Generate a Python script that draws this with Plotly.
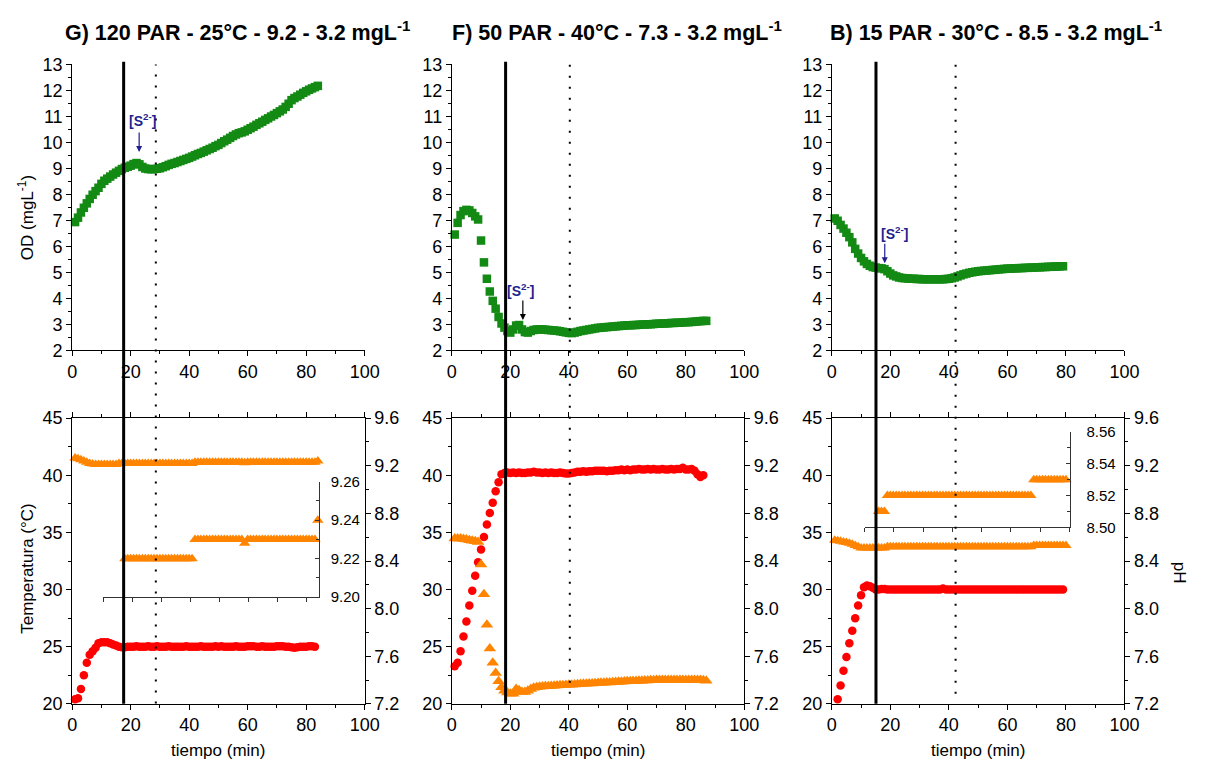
import plotly.graph_objects as go

# ------------------------------------------------------------------ data
# Panel G (120 PAR - 25 C)
G_od_t = list(range(1, 85))
G_od = [6.93, 7.1, 7.3, 7.48, 7.65, 7.82, 7.98, 8.12, 8.25, 8.4,
        8.52, 8.6, 8.68, 8.76, 8.83, 8.9, 8.97, 9.02, 9.06, 9.1,
        9.16, 9.2, 9.15, 9.05, 8.99, 8.97, 8.96, 8.97, 8.98, 9.0,
        9.04, 9.08, 9.13, 9.17, 9.2, 9.24, 9.28, 9.32, 9.36, 9.4,
        9.45, 9.5, 9.55, 9.59, 9.64, 9.69, 9.74, 9.79, 9.85, 9.9,
        9.97, 10.04, 10.1, 10.17, 10.24, 10.3, 10.35, 10.38, 10.42, 10.48,
        10.54, 10.6, 10.67, 10.73, 10.79, 10.86, 10.92, 10.99, 11.05, 11.12,
        11.19, 11.26, 11.36, 11.48, 11.62, 11.7, 11.76, 11.83, 11.9, 11.96,
        12.02, 12.07, 12.12, 12.17]
G_temp_t = list(range(1, 84))
G_temp = [20.4, 20.5, 21.3, 22.5, 23.6, 24.3, 24.6, 24.9, 25.3, 25.4,
          25.4, 25.4, 25.3, 25.2, 25.1, 25.0, 24.95, 24.95, 25.0, 25.0,
          25.0, 25.05, 25.0, 25.0, 25.0, 25.05, 25.0, 25.0, 25.05, 25.0,
          25.0, 25.0, 25.05, 25.0, 25.0, 25.0, 25.0, 25.0, 25.05, 25.0,
          25.0, 25.0, 25.0, 25.05, 25.0, 25.0, 25.0, 25.0, 25.05, 25.0,
          25.05, 25.0, 25.0, 25.0, 25.0, 25.05, 25.0, 25.0, 25.0, 25.05,
          25.05, 25.05, 25.0, 25.0, 25.05, 25.0, 25.0, 25.0, 25.0, 25.05,
          25.05, 25.05, 25.0, 25.0, 24.95, 24.9, 24.95, 25.0, 25.0, 25.0,
          25.05, 25.05, 25.0]
G_ph_t = list(range(1, 85))
G_ph = [9.265, 9.26, 9.25, 9.24, 9.23, 9.22, 9.215,
        9.21, 9.21, 9.21, 9.21, 9.21, 9.21, 9.21, 9.21,
        9.22, 9.22, 9.22, 9.22, 9.22, 9.22, 9.22, 9.22, 9.22, 9.22,
        9.22, 9.22, 9.22, 9.22, 9.22, 9.22, 9.22, 9.22, 9.22, 9.22,
        9.22, 9.22, 9.22, 9.22, 9.22, 9.22,
        9.23, 9.23, 9.23, 9.23, 9.23, 9.23, 9.23, 9.23, 9.23, 9.23,
        9.23, 9.23, 9.23, 9.23, 9.23, 9.23, 9.23,
        9.225,
        9.23, 9.23, 9.23, 9.23, 9.23, 9.23, 9.23, 9.23, 9.23, 9.23,
        9.23, 9.23, 9.23, 9.23, 9.23, 9.23, 9.23, 9.23, 9.23, 9.23,
        9.23, 9.23, 9.23, 9.23,
        9.24]
G_inset_t = list(range(18, 85))
G_inset_ph = [9.22, 9.22, 9.22, 9.22, 9.22, 9.22, 9.22, 9.22, 9.22, 9.22,
              9.22, 9.22, 9.22, 9.22, 9.22, 9.22, 9.22, 9.22, 9.22, 9.22,
              9.22, 9.22, 9.22, 9.22,
              9.23, 9.23, 9.23, 9.23, 9.23, 9.23, 9.23, 9.23, 9.23, 9.23,
              9.23, 9.23, 9.23, 9.23, 9.23, 9.23, 9.23,
              9.228,
              9.23, 9.23, 9.23, 9.23, 9.23, 9.23, 9.23, 9.23, 9.23, 9.23,
              9.23, 9.23, 9.23, 9.23, 9.23, 9.23, 9.23, 9.23, 9.23, 9.23,
              9.23, 9.23, 9.23, 9.23,
              9.24]

# Panel F (50 PAR - 40 C)
F_od_t = list(range(1, 88))
F_od = [6.45, 6.9, 7.2, 7.35, 7.4, 7.38, 7.28, 7.15, 7.03, 6.22,
        5.38, 4.75, 4.26, 3.9, 3.6, 3.28, 3.03, 2.87, 2.74, 2.68,
        2.8, 2.95, 2.97, 2.8, 2.7, 2.68, 2.74, 2.78, 2.8, 2.8,
        2.8, 2.79, 2.78, 2.77, 2.76, 2.75, 2.73, 2.71, 2.69, 2.67,
        2.66, 2.68, 2.71, 2.74, 2.76, 2.78, 2.8, 2.82, 2.84, 2.86,
        2.87, 2.88, 2.89, 2.9, 2.91, 2.92, 2.93, 2.94, 2.95, 2.96,
        2.96, 2.97, 2.97, 2.98, 2.99, 2.99, 3.0, 3.0, 3.01, 3.02,
        3.02, 3.03, 3.03, 3.04, 3.05, 3.05, 3.06, 3.06, 3.07, 3.08,
        3.08, 3.09, 3.1, 3.11, 3.12, 3.13, 3.13]
F_temp_t = list(range(1, 87))
F_temp = [23.3, 23.6, 24.6, 25.9, 27.2, 28.6, 29.9, 31.2, 32.4, 33.5,
          34.6, 35.7, 36.7, 37.6, 38.6, 39.4, 40.1, 40.2, 40.25, 40.2,
          40.25, 40.2, 40.25, 40.2, 40.2, 40.25, 40.25, 40.3, 40.25, 40.25,
          40.2, 40.25, 40.2, 40.25, 40.2, 40.2, 40.25, 40.2, 40.15, 40.15,
          40.2, 40.25, 40.3, 40.3, 40.35, 40.3, 40.35, 40.35, 40.4, 40.4,
          40.4, 40.4, 40.35, 40.4, 40.4, 40.45, 40.45, 40.5, 40.45, 40.5,
          40.45, 40.5, 40.5, 40.55, 40.5, 40.5, 40.55, 40.5, 40.55, 40.5,
          40.5, 40.55, 40.5, 40.5, 40.55, 40.5, 40.55, 40.55, 40.65, 40.5,
          40.5, 40.55, 40.4, 40.1, 39.85, 40.0]
F_ph_t = list(range(1, 88))
F_ph = [8.59, 8.59, 8.59, 8.585, 8.58, 8.575, 8.57, 8.565, 8.56, 8.37,
        8.12, 7.865, 7.665, 7.545, 7.46, 7.39, 7.34, 7.31, 7.295, 7.285,
        7.285, 7.325, 7.315, 7.3, 7.3, 7.31, 7.325, 7.335, 7.34, 7.343,
        7.345, 7.347, 7.349, 7.35, 7.352, 7.354, 7.356, 7.357, 7.358, 7.36,
        7.36, 7.362, 7.364, 7.366, 7.368, 7.37, 7.371, 7.372, 7.374, 7.375,
        7.377, 7.378, 7.379, 7.38, 7.382, 7.383, 7.385, 7.386, 7.388, 7.39,
        7.39, 7.392, 7.393, 7.394, 7.395, 7.396, 7.397, 7.398, 7.399, 7.4,
        7.4, 7.4, 7.4, 7.4, 7.4, 7.4, 7.4, 7.4, 7.4, 7.4,
        7.4, 7.4, 7.4, 7.4, 7.4, 7.398, 7.395]

# Panel B (15 PAR - 30 C)
B_od_t = list(range(1, 80))
B_od = [7.07, 6.98, 6.82, 6.68, 6.52, 6.35, 6.15, 5.9, 5.72, 5.55,
        5.42, 5.32, 5.25, 5.2, 5.18, 5.16, 5.15, 5.12, 5.04, 4.95,
        4.88, 4.84, 4.8, 4.78, 4.77, 4.76, 4.75, 4.75, 4.74, 4.74,
        4.73, 4.73, 4.73, 4.73, 4.73, 4.73, 4.73, 4.73, 4.74, 4.75,
        4.77, 4.8, 4.84, 4.88, 4.92, 4.95, 4.98, 5.0, 5.02, 5.04,
        5.05, 5.06, 5.07, 5.08, 5.09, 5.1, 5.11, 5.12, 5.13, 5.14,
        5.14, 5.15, 5.15, 5.16, 5.16, 5.17, 5.17, 5.18, 5.18, 5.19,
        5.19, 5.2, 5.2, 5.21, 5.21, 5.22, 5.22, 5.23, 5.23]
B_temp_t = list(range(2, 80))
B_temp = [20.4, 21.6, 22.9, 24.1, 25.3, 26.4, 27.5, 28.6, 29.5, 30.2,
          30.35, 30.3, 30.15, 30.0, 30.0, 30.05, 30.05,
          30.0, 30.0, 30.0, 30.0, 30.0, 30.0, 30.0, 30.0, 30.0, 30.0,
          30.0, 30.0, 30.0, 30.0, 30.0, 30.0, 30.0, 30.0, 30.0,
          30.1,
          30.0, 30.0, 30.0, 30.0, 30.0, 30.0, 30.0, 30.0, 30.0, 30.0,
          30.0, 30.0, 30.0, 30.0, 30.0, 30.0, 30.0, 30.0, 30.0, 30.0,
          30.0, 30.0, 30.0, 30.0, 30.0, 30.0, 30.0, 30.0, 30.0, 30.0,
          30.0, 30.0, 30.0, 30.0, 30.0, 30.0, 30.0, 30.0, 30.0, 30.0,
          30.0]
B_ph_t = list(range(1, 81))
B_ph = [8.575, 8.57, 8.565, 8.56, 8.555, 8.55, 8.54, 8.53, 8.52,
        8.51, 8.51, 8.51, 8.51, 8.51, 8.51, 8.51, 8.51, 8.51,
        8.52, 8.52, 8.52, 8.52, 8.52, 8.52, 8.52, 8.52, 8.52, 8.52,
        8.52, 8.52, 8.52, 8.52, 8.52, 8.52, 8.52, 8.52, 8.52, 8.52,
        8.52, 8.52, 8.52, 8.52, 8.52, 8.52, 8.52, 8.52, 8.52, 8.52,
        8.52, 8.52, 8.52, 8.52, 8.52, 8.52, 8.52, 8.52, 8.52, 8.52,
        8.52, 8.52, 8.52, 8.52, 8.52, 8.52, 8.52, 8.52, 8.52, 8.52,
        8.53, 8.53, 8.53, 8.53, 8.53, 8.53, 8.53, 8.53, 8.53, 8.53,
        8.53, 8.53]
B_inset_t = list(range(16, 81))
B_inset_ph = [8.51, 8.51, 8.51,
              8.52, 8.52, 8.52, 8.52, 8.52, 8.52, 8.52, 8.52, 8.52, 8.52,
              8.52, 8.52, 8.52, 8.52, 8.52, 8.52, 8.52, 8.52, 8.52, 8.52,
              8.52, 8.52, 8.52, 8.52, 8.52, 8.52, 8.52, 8.52, 8.52, 8.52,
              8.52, 8.52, 8.52, 8.52, 8.52, 8.52, 8.52, 8.52, 8.52, 8.52,
              8.52, 8.52, 8.52, 8.52, 8.52, 8.52, 8.52, 8.52, 8.52, 8.52,
              8.53, 8.53, 8.53, 8.53, 8.53, 8.53, 8.53, 8.53, 8.53, 8.53,
              8.53, 8.53]

titles = ["G) 120 PAR - 25°C - 9.2 - 3.2 mgL<sup>-1</sup>",
          "F) 50 PAR - 40°C - 7.3 - 3.2 mgL<sup>-1</sup>",
          "B) 15 PAR - 30°C - 8.5 - 3.2 mgL<sup>-1</sup>"]
solid_lines = [17.6, 18.4, 15.1]
dotted_lines = [28.6, 40.35, 42.3]
s2_text_pos = [(24.1, 10.85), (23.5, 4.32), (21.4, 6.51)]
s2_arrow_tip = [(22.9, 9.63), (24.3, 3.16), (18.1, 5.35)]

# ------------------------------------------------------------------ style
W, H = 1209, 773
def px(p):
    return p / W
def py(p):
    return 1 - p / H

FONT = "Liberation Sans, Arial, sans-serif"
GREEN = "#138a13"
RED = "#ff0000"
ORANGE = "#ff8400"
NAVY = "#1f1f8f"

x_dom = [(68.3, 365.7), (454.3, 751.7), (840.7, 1138.3)]
top_dom = (py(349.3), py(55.7))
bot_dom = (py(712.3), py(419.0))

def axis(**kw):
    d = dict(showline=True, linecolor="black", linewidth=1, ticks="outside",
             ticklen=5, tickwidth=1, tickcolor="black", showgrid=False,
             zeroline=False, tickfont=dict(family=FONT, size=18, color="black"))
    d.update(kw)
    return d

fig = go.Figure()
layout = dict(width=W, height=H, margin=dict(l=0, r=0, t=0, b=0),
              paper_bgcolor="white", plot_bgcolor="rgba(0,0,0,0)",
              showlegend=False, font=dict(family=FONT, color="black"))

for i in range(3):
    d0, d1 = x_dom[i]
    xt = "xaxis" if i == 0 else f"xaxis{i+1}"
    yt = "yaxis" if i == 0 else f"yaxis{i+1}"
    xr = "x" if i == 0 else f"x{i+1}"
    yr = "y" if i == 0 else f"y{i+1}"
    layout[xt] = axis(domain=[px(d0), px(d1)], anchor=yr, range=[0, 100], dtick=20,
                      minor=dict(dtick=10, ticks="outside", ticklen=3, tickcolor="black"))
    layout[yt] = axis(domain=list(top_dom), anchor=xr, range=[2, 13], dtick=1,
                      minor=dict(dtick=0.5, ticks="outside", ticklen=3, tickcolor="black"))
    xb = f"xaxis{i+4}"
    xbr = f"x{i+4}"
    yT = f"yaxis{4+2*i}"
    yTr = f"y{4+2*i}"
    yP = f"yaxis{5+2*i}"
    layout[xb] = axis(domain=[px(d0), px(d1)], anchor=yTr, range=[0, 100], dtick=20,
                      mirror="ticks",
                      minor=dict(dtick=10, ticks="outside", ticklen=3, tickcolor="black"))
    layout[yT] = axis(domain=list(bot_dom), anchor=xbr, range=[20, 45], dtick=5,
                      minor=dict(dtick=2.5, ticks="outside", ticklen=3, tickcolor="black"))
    layout[yP] = axis(overlaying=yTr, anchor=xbr, side="right", range=[7.2, 9.6],
                      dtick=0.4, tick0=7.2, tickformat=".1f",
                      minor=dict(dtick=0.2, ticks="outside", ticklen=3, tickcolor="black"))

# insets
inset_font = dict(family=FONT, size=15, color="black")
layout["xaxis7"] = axis(domain=[px(100), px(319)], anchor="y10", range=[10.66, 84.3],
                        tick0=0.8, dtick=9.9, showticklabels=False, ticklen=4,
                        linecolor="#333333", tickcolor="#333333")
layout["yaxis10"] = axis(domain=[py(602.7), py(484.3)], anchor="x7", side="right",
                         range=[9.2, 9.26], dtick=0.02, tick0=9.2, tickformat=".2f",
                         ticks="inside", ticklen=4, ticklabelstandoff=8,
                         linecolor="#333333", tickcolor="#333333", tickfont=inset_font,
                         minor=dict(dtick=0.01, ticks="inside", ticklen=3, tickcolor="#333333"))
layout["xaxis8"] = axis(domain=[px(874), px(1083.3)], anchor="y11", range=[11.2, 81.5],
                        tick0=1.2, dtick=10, showticklabels=False, ticklen=4,
                        linecolor="#333333", tickcolor="#333333")
layout["yaxis11"] = axis(domain=[py(531), py(433.3)], anchor="x8", side="right",
                         range=[8.5, 8.56], dtick=0.02, tick0=8.5, tickformat=".2f",
                         ticks="inside", ticklen=4, ticklabelstandoff=12,
                         linecolor="#333333", tickcolor="#333333", tickfont=inset_font,
                         minor=dict(dtick=0.01, ticks="inside", ticklen=3, tickcolor="#333333"))

# ------------------------------------------------------------------ traces
def sq(x, y, xa, ya):
    return go.Scatter(x=x, y=y, xaxis=xa, yaxis=ya, mode="markers", cliponaxis=False,
                      marker=dict(symbol="square", size=8.5, color=GREEN))
def circ(x, y, xa, ya):
    return go.Scatter(x=x, y=y, xaxis=xa, yaxis=ya, mode="markers", cliponaxis=False,
                      marker=dict(symbol="circle", size=8.5, color=RED))
def tri(x, y, xa, ya, size=10):
    return go.Scatter(x=x, y=y, xaxis=xa, yaxis=ya, mode="markers", cliponaxis=False,
                      marker=dict(symbol="triangle-up", size=size, color=ORANGE))

fig.add_trace(sq(G_od_t, G_od, "x", "y"))
fig.add_trace(sq(F_od_t, F_od, "x2", "y2"))
fig.add_trace(sq(B_od_t, B_od, "x3", "y3"))

fig.add_trace(circ(G_temp_t, G_temp, "x4", "y4"))
fig.add_trace(tri(G_ph_t, G_ph, "x4", "y5"))
fig.add_trace(circ(F_temp_t, F_temp, "x5", "y6"))
fig.add_trace(tri(F_ph_t, F_ph, "x5", "y7", size=11))
fig.add_trace(circ(B_temp_t, B_temp, "x6", "y8"))
fig.add_trace(tri(B_ph_t, B_ph, "x6", "y9"))

fig.add_trace(tri(G_inset_t, G_inset_ph, "x7", "y10"))
fig.add_trace(tri(B_inset_t, B_inset_ph, "x8", "y11"))

# ------------------------------------------------------------------ shapes
shapes = []
dot_bottom = [712.0, 702.0, 702.0]
for i, xr in enumerate(["x4", "x5", "x6"]):
    shapes.append(dict(type="line", xref=xr, yref="paper",
                       x0=solid_lines[i], x1=solid_lines[i], y0=py(712.3), y1=py(53),
                       line=dict(color="black", width=3)))
    shapes.append(dict(type="line", xref=xr, yref="paper",
                       x0=dotted_lines[i], x1=dotted_lines[i], y0=py(dot_bottom[i]), y1=py(56),
                       line=dict(color="black", width=2, dash="2px,9px")))
layout["shapes"] = shapes

# ------------------------------------------------------------------ annotations
ann = []
title_left = [59, 452, 837]
for i in range(3):
    ann.append(dict(text=titles[i], xref="paper", yref="paper", x=px(title_left[i]),
                    y=py(22), xanchor="left", yanchor="middle", showarrow=False,
                    font=dict(family=FONT, size=21.5, color="black", weight="bold")))

top_x = ["x", "x2", "x3"]
top_y = ["y", "y2", "y3"]
arrow_col = [NAVY, "black", NAVY]
for i in range(3):
    tx, ty = s2_text_pos[i]
    ann.append(dict(text="[S<sup>2-</sup>]", xref=top_x[i], yref=top_y[i], x=tx, y=ty,
                    showarrow=False, font=dict(family=FONT, size=14, color=NAVY, weight="bold")))
    ax_, ay_ = s2_arrow_tip[i]
    ann.append(dict(text="", xref=top_x[i], yref=top_y[i], x=ax_, y=ay_,
                    showarrow=True, ax=0, ay=-21, arrowhead=2, arrowsize=1,
                    arrowwidth=1.2, arrowcolor=arrow_col[i]))

axis_title_font = dict(family=FONT, size=17, color="black")
ann.append(dict(text="OD (mgL<sup>-1</sup>)", xref="paper", yref="paper", x=px(22), y=py(213),
                textangle=-90, showarrow=False, font=axis_title_font,
                xanchor="center", yanchor="middle"))
ann.append(dict(text="Temperatura (°C)", xref="paper", yref="paper", x=px(23), y=py(573),
                textangle=-90, showarrow=False, font=axis_title_font,
                xanchor="center", yanchor="middle"))
for i in range(3):
    c = (x_dom[i][0] + x_dom[i][1]) / 2
    ann.append(dict(text="tiempo (min)", xref="paper", yref="paper", x=px(c), y=py(760),
                    showarrow=False, font=axis_title_font, xanchor="center", yanchor="middle"))
ann.append(dict(text="pH", xref="paper", yref="paper", x=px(1195), y=py(578),
                textangle=90, showarrow=False, font=axis_title_font,
                xanchor="center", yanchor="middle"))
layout["annotations"] = ann

fig.update_layout(**layout)
fig.write_html("out.html")
